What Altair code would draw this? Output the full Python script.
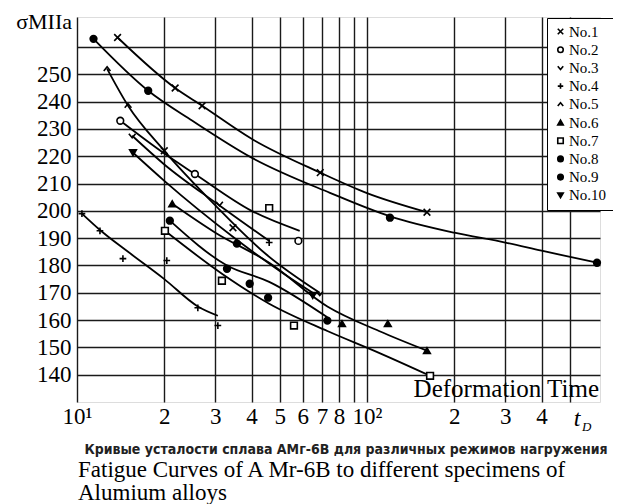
import altair as alt
import pandas as pd

series = ["No.1", "No.2", "No.3", "No.4", "No.5", "No.6", "No.7", "No.8", "No.9", "No.10"]
shapes = [
    "M-1,-1L1,1M-1,1L1,-1",          # x
    "circle",
    "M-1,-0.6L0,0.6L1,-0.6",         # v
    "M-1,0L1,0M0,-1L0,1",            # +
    "M-1,0.6L0,-0.6L1,0.6",          # ^
    "triangle-up",
    "square",
    "circle",
    "circle",
    "triangle-down",
]
fills = ["transparent", "white", "transparent", "transparent", "transparent",
         "black", "white", "black", "black", "black"]

# marker points (x = deformation time, y = stress)
m_x = {
    "No.1": [13.8, 21.8, 27, 20, 34.5, 69, 161],
    "No.2": [14.1, 25.5, 58],
    "No.3": [15.5, 31, 68.7],
    "No.4": [10.4, 12, 14.4, 20.4, 26.1, 30.6, 46],
    "No.5": [12.7, 15],
    "No.6": [21.3, 82, 118, 161],
    "No.7": [20.1, 31.6, 46, 56, 165],
    "No.8": [20.9, 32.9, 39.4, 45.6, 73],
    "No.9": [11.4, 17.6, 35.6, 120, 621],
    "No.10": [15.6, 65],
}
m_y = {
    "No.1": [263.5, 245, 238.5, 222, 193.8, 214, 199.5],
    "No.2": [233, 213.5, 189],
    "No.3": [227.5, 202.6, 169.7],
    "No.4": [199, 192.7, 182.5, 181.8, 164.5, 158, 188.4],
    "No.5": [252, 238.5],
    "No.6": [202.6, 158.7, 158.7, 148.8],
    "No.7": [192.7, 174.4, 201, 158, 139.6],
    "No.8": [196.4, 178.8, 173.3, 168.2, 159.8],
    "No.9": [263, 244, 188, 197.5, 181],
    "No.10": [221.3, 169],
}

# fitted curves
c_x = {
    "No.1": [13.8, 21.8, 27, 40, 69, 100, 161],
    "No.2": [14.1, 20, 25.5, 40, 58.6],
    "No.3": [15.5, 20, 31, 46],
    "No.4": [10.4, 12, 15, 20, 26.1, 30.6],
    "No.5": [12.7, 15, 20, 30, 45, 68.7],
    "No.6": [21.3, 30, 46, 73, 110, 161],
    "No.7": [20.1, 31.6, 46, 73, 110, 165],
    "No.8": [20.9, 32.9, 46, 73],
    "No.9": [11.4, 17.6, 25, 40, 74.5, 120, 200, 300, 400, 621],
    "No.10": [15.6, 20, 35, 50, 65],
}
c_y = {
    "No.1": [263.5, 245, 238.5, 226.4, 214, 206.5, 199.5],
    "No.2": [233, 221, 213.5, 200, 192.7],
    "No.3": [227.5, 217, 202, 189],
    "No.4": [199, 193, 185, 175, 165, 161.6],
    "No.5": [252, 238.5, 222, 202, 184, 170],
    "No.6": [202.6, 192, 181, 165, 156, 148.8],
    "No.7": [192.7, 177, 166, 156, 148, 139.6],
    "No.8": [196.4, 180, 174, 161],
    "No.9": [263, 244, 233, 219.5, 206.6, 198, 192, 188.4, 185.4, 181],
    "No.10": [221.3, 211, 190, 178, 170],
}

x_ticks = [10, 20, 30, 40, 50, 60, 70, 80, 90, 100, 200, 300, 400, 500]
x_labels = ["10¹", "2", "3", "4", "5", "6", "7", "8", "", "10²", "2", "3", "4", ""]
y_ticks = [140, 150, 160, 170, 180, 190, 200, 210, 220, 230, 240, 250, 260]
y_labels = ["140", "150", "160", "170", "180", "190", "200", "210", "220", "230", "240", "250", ""]

pts = pd.DataFrame([
    {"series": s, "t": x, "sigma": y}
    for s in series for x, y in zip(m_x[s], m_y[s])
])
curves = pd.DataFrame([
    {"series": s, "t": x, "sigma": y, "order": i}
    for s in series for i, (x, y) in enumerate(zip(c_x[s], c_y[s]))
])

SERIF = "Liberation Serif, Times New Roman, serif"
W, H = 523, 385

x_map = "{" + ",".join(f"'{v}':'{l}'" for v, l in zip(x_ticks, x_labels)) + "}"
y_map = "{" + ",".join(f"'{v}':'{l}'" for v, l in zip(y_ticks, y_labels)) + "}"

xscale = alt.Scale(type="log", domain=[10, 636], nice=False)
yscale = alt.Scale(domain=[130, 271], nice=False, zero=False)

xaxis = alt.Axis(values=x_ticks, labelExpr=f"{x_map}[datum.value] || ''",
                 title=None, grid=True, gridColor="#1a1a1a", gridWidth=1.4,
                 ticks=False, domain=False, labelFont=SERIF, labelFontSize=23,
                 labelColor="black", labelPadding=3, labelFlush=False, labelOverlap=False)
yaxis = alt.Axis(values=y_ticks, labelExpr=f"{y_map}[datum.value] || ''",
                 title=None, grid=True, gridColor="#1a1a1a", gridWidth=1.4,
                 ticks=False, domain=False, labelFont=SERIF, labelFontSize=23,
                 labelColor="black", labelPadding=6, labelOverlap=False, labelFlush=False)

lines = alt.Chart(curves).mark_line(interpolate="monotone", color="black", strokeWidth=1.8).encode(
    x=alt.X("t:Q", scale=xscale, axis=xaxis),
    y=alt.Y("sigma:Q", scale=yscale, axis=yaxis),
    detail="series:N",
    order="order:Q",
)

marks = alt.Chart(pts).mark_point(size=45, strokeWidth=1.6, opacity=1, filled=False).encode(
    x=alt.X("t:Q", scale=xscale, axis=xaxis),
    y=alt.Y("sigma:Q", scale=yscale, axis=yaxis),
    shape=alt.Shape("series:N", scale=alt.Scale(domain=series, range=shapes),
                    legend=alt.Legend(title=None, orient="none", legendX=470, legendY=1,
                                      fillColor="white", strokeColor="black",
                                      padding=6, labelFont=SERIF, labelFontSize=15,
                                      labelColor="black", symbolSize=30,
                                      symbolStrokeWidth=1.6, rowPadding=2.2,
                                      labelOffset=1)),
    fill=alt.Fill("series:N", scale=alt.Scale(domain=series, range=fills), legend=None),
    stroke=alt.Stroke("series:N", scale=alt.Scale(domain=series, range=["black"] * 10), legend=None),
)

ann = pd.DataFrame({"txt": ["Deformation Time"], "t": [500]})
deform = alt.Chart(ann).mark_text(font=SERIF, fontSize=25, align="right", baseline="middle",
                                  color="black").encode(
    text="txt:N", x=alt.value(W - 1), y=alt.value(H - 13))

t_lab = alt.Chart(pd.DataFrame({"txt": ["t"], "t": [530]})).mark_text(
    font=SERIF, fontSize=24, fontStyle="italic", align="center", baseline="middle", color="black"
).encode(text="txt:N", x=alt.X("t:Q", scale=xscale), y=alt.value(H + 17))
d_lab = alt.Chart(pd.DataFrame({"txt": ["D"], "t": [530]})).mark_text(
    font=SERIF, fontSize=13, fontStyle="italic", align="left", baseline="middle", color="black",
    dx=5
).encode(text="txt:N", x=alt.X("t:Q", scale=xscale), y=alt.value(H + 25))

ylab = alt.Chart(pd.DataFrame({"txt": ["σMIIa"]})).mark_text(
    font=SERIF, fontSize=22, align="right", baseline="middle", color="black"
).encode(text="txt:N", x=alt.value(-5), y=alt.value(5))

ru = alt.Chart(pd.DataFrame({"txt": ["Кривые усталости сплава АМг-6В для различных режимов нагружения"]})).mark_text(
    font="DejaVu Sans Condensed", fontSize=14, fontWeight="bold", align="center", baseline="middle",
    color="#222"
).encode(text="txt:N", x=alt.value(269), y=alt.value(H + 48))

en1 = alt.Chart(pd.DataFrame({"txt": ["Fatigue Curves of A Mr-6B to different specimens of"]})).mark_text(
    font=SERIF, fontSize=23, align="left", baseline="middle", color="black"
).encode(text="txt:N", x=alt.value(1), y=alt.value(H + 68))

en2 = alt.Chart(pd.DataFrame({"txt": ["Alumium alloys"]})).mark_text(
    font=SERIF, fontSize=23, align="left", baseline="middle", color="black"
).encode(text="txt:N", x=alt.value(1), y=alt.value(H + 91))

chart = alt.layer(lines, marks, deform, t_lab, d_lab, ylab, ru, en1, en2).properties(
    width=W, height=H,
    autosize=alt.AutoSizeParams(type="none"),
    padding={"left": 69, "top": 9, "right": 13, "bottom": 115},
).configure_view(stroke="black", strokeWidth=2.2, fill="white").configure(background="white")

chart.save("out.html", embed_options={"renderer": "svg", "actions": False})
